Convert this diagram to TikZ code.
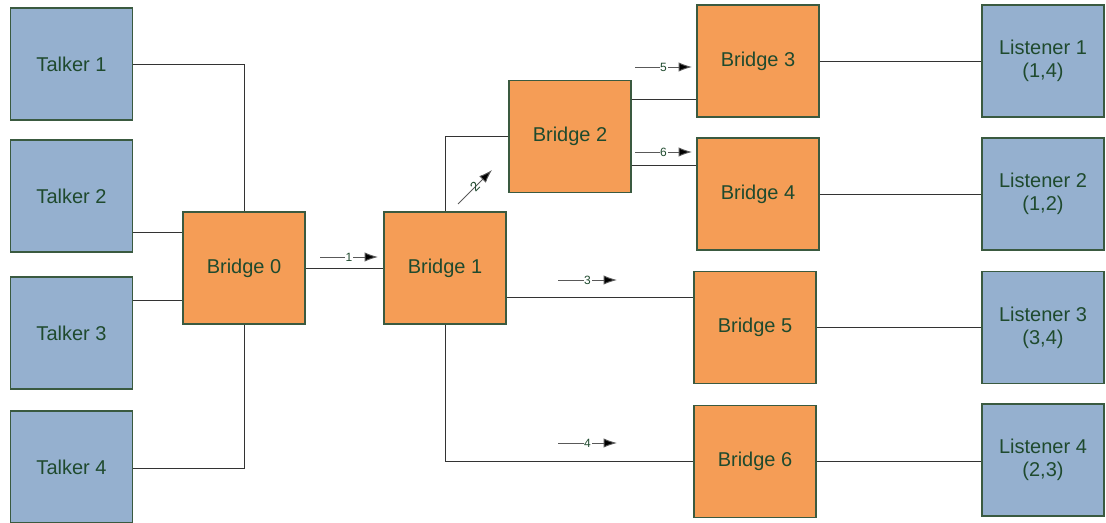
\documentclass[tikz,border=0pt]{standalone}
\usepackage{fontspec}
\setmainfont{Liberation Sans}
\usetikzlibrary{arrows.meta}
\definecolor{talkerblue}{HTML}{95B0CF}
\definecolor{bridgeor}{HTML}{F59D56}
\definecolor{edgegreen}{HTML}{3A5A40}
\definecolor{txtgreen}{HTML}{1F4A2E}
\definecolor{wire}{HTML}{333333}
\begin{document}
\begin{tikzpicture}[x=0.75pt,y=-0.75pt,
  box/.style={draw=edgegreen,line width=0.8pt,minimum width=91.5pt,minimum height=84pt,inner sep=0pt,text=txtgreen,font=\fontsize{15}{17}\selectfont,align=center},
  talker/.style={box,fill=talkerblue},
  bridge/.style={box,fill=bridgeor},
  wireline/.style={draw=wire,line width=0.7pt},
  flow/.style={draw=gray!70!black,line width=0.7pt,-{Latex[length=10pt,width=7pt,fill=black]}},
  flowlabel/.style={text=txtgreen,font=\fontsize{9}{10}\selectfont,inner sep=0.5pt,fill=white}]
\useasboundingbox (0,0) rectangle (1106,523);
\node[talker] (t1) at (71.5,64) {Talker 1};
\node[talker] (t2) at (71.5,196) {Talker 2};
\node[talker] (t3) at (71.5,333) {Talker 3};
\node[talker] (t4) at (71.5,467) {Talker 4};
\node[bridge] (b0) at (244,268) {Bridge 0};
\node[bridge] (b1) at (445,268) {Bridge 1};
\node[bridge] (b2) at (570,136.5) {Bridge 2};
\node[bridge] (b3) at (758,61) {Bridge 3};
\node[bridge] (b4) at (758,194) {Bridge 4};
\node[bridge] (b5) at (755,327.5) {Bridge 5};
\node[bridge] (b6) at (755,461.5) {Bridge 6};
\node[talker] (l1) at (1043,61) {Listener 1\\(1,4)};
\node[talker] (l2) at (1043,194) {Listener 2\\(1,2)};
\node[talker] (l3) at (1043,327.5) {Listener 3\\(3,4)};
\node[talker] (l4) at (1043,460) {Listener 4\\(2,3)};
% wires
\draw[wireline] (t1.east |- 0,64) -| (b0.north);
\draw[wireline] (t2.east |- 0,232) -- (b0.west |- 0,232);
\draw[wireline] (t3.east |- 0,300) -- (b0.west |- 0,300);
\draw[wireline] (t4.east |- 0,468) -| (b0.south);
\draw[wireline] (b0.east) -- (b1.west);
\draw[wireline] (b1.north) |- (b2.west);
\draw[wireline] (b1.east |- 0,297) -- (b5.west |- 0,297);
\draw[wireline] (b1.south) |- (b6.west);
\draw[wireline] (b2.east |- 0,99) -- (b3.west |- 0,99);
\draw[wireline] (b2.east |- 0,165) -- (b4.west |- 0,165);
\draw[wireline] (b3.east) -- (l1.west);
\draw[wireline] (b4.east) -- (l2.west);
\draw[wireline] (b5.east) -- (l3.west);
\draw[wireline] (b6.east |- 0,461) -- (l4.west |- 0,461);
% flow arrows
\coordinate (a1s) at (320,257); \coordinate (a1e) at (378,257);
\coordinate (a2s) at (458,204); \coordinate (a2e) at (492,170);
\coordinate (a3s) at (558,280); \coordinate (a3e) at (617,280);
\coordinate (a4s) at (558,443); \coordinate (a4e) at (617,443);
\coordinate (a5s) at (635,67); \coordinate (a5e) at (692,67);
\coordinate (a6s) at (635,152); \coordinate (a6e) at (692,152);
\draw[flow] (a1s) -- node[flowlabel] (n1) {1} (a1e);
\draw[flow] (a2s) -- node[flowlabel,sloped,fill=none,font=\fontsize{10}{11}\selectfont] (n2) {2} (a2e);
\draw[flow] (a3s) -- node[flowlabel] (n3) {3} (a3e);
\draw[flow] (a4s) -- node[flowlabel] (n4) {4} (a4e);
\draw[flow] (a5s) -- node[flowlabel] (n5) {5} (a5e);
\draw[flow] (a6s) -- node[flowlabel] (n6) {6} (a6e);
\end{tikzpicture}
\end{document}
